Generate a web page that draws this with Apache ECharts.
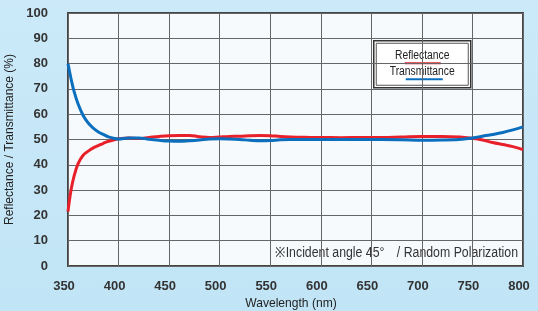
<!DOCTYPE html>
<html>
<head>
<meta charset="utf-8">
<script src="https://cdn.jsdelivr.net/npm/echarts@6/dist/echarts.min.js"></script>
<style>
  html, body { margin: 0; padding: 0; }
  #main { width: 538px; height: 311px; }
</style>
</head>
<body>
<div id="main"></div>
<script>
// wavelength (nm)
var wavelength = [350, 353, 356, 360, 365, 370, 375, 380, 385, 390, 395, 400, 410, 420, 430, 440, 450, 460, 470, 480, 490, 500, 510, 520, 530, 540, 550, 560, 570, 580, 590, 600, 620, 640, 660, 680, 700, 720, 740, 750, 760, 770, 780, 790, 800];
var reflectance = [21.5, 30, 35.5, 40.5, 43.8, 45.4, 46.7, 47.6, 48.5, 49.3, 49.8, 50.3, 50.6, 50.4, 50.8, 51.2, 51.5, 51.6, 51.6, 51.1, 50.8, 51.0, 51.2, 51.3, 51.5, 51.6, 51.5, 51.2, 51.0, 50.9, 50.8, 50.8, 50.7, 50.8, 50.8, 51.0, 51.2, 51.2, 50.9, 50.5, 49.8, 48.8, 48.0, 47.2, 46.0];
var transmittance = [80, 74, 69, 64, 59.5, 56.5, 54.5, 53, 52, 51, 50.5, 50.2, 50.6, 50.6, 50.1, 49.7, 49.4, 49.3, 49.5, 49.8, 50.2, 50.3, 50.2, 50.0, 49.7, 49.5, 49.6, 49.9, 50.0, 50.0, 50.0, 50.0, 50.0, 50.0, 50.0, 49.9, 49.7, 49.8, 50.1, 50.6, 51.3, 52.0, 52.8, 53.8, 55.0];

var seriesNames = ["Reflectance", "Transmittance"];
var xTitle = "Wavelength (nm)";
var yTitle = "Reflectance / Transmittance (%)";
var note = "※Incident angle 45°\u3000/ Random Polarization";

function pairs(ys) {
  return wavelength.map(function (x, i) { return [x, ys[i]]; });
}

var chartDom = document.getElementById("main");
var myChart = echarts.init(chartDom);
var sans = "'Liberation Sans', Arial, sans-serif";

var option = {
  animation: false,
  backgroundColor: {
    type: "linear", x: 0, y: 0, x2: 0, y2: 1,
    colorStops: [
      { offset: 0, color: "#cbe9f9" },
      { offset: 1, color: "#c1e5f6" }
    ]
  },
  grid: {
    left: 68, top: 13, right: 15, bottom: 45,
    outerBoundsMode: "none",
    containLabel: false,
    show: true,
    backgroundColor: "#f6fafd",
    borderColor: "#444",
    borderWidth: 2
  },
  xAxis: {
    type: "value",
    min: 350, max: 800, interval: 50,
    axisLine: { show: false },
    axisTick: { show: false },
    axisLabel: { margin: 14, padding: [0, 8, 0, 0], fontFamily: sans, fontWeight: "bold", fontSize: 13, color: "#333" },
    splitLine: { lineStyle: { color: "#666", width: 1 } }
  },
  yAxis: {
    type: "value",
    min: 0, max: 100, interval: 10,
    name: yTitle,
    nameLocation: "middle",
    nameGap: 39,
    nameTextStyle: { fontFamily: sans, fontSize: 12, color: "#222" },
    axisLine: { show: false },
    axisTick: { show: false },
    axisLabel: { margin: 20, fontFamily: sans, fontWeight: "bold", fontSize: 13, color: "#333" },
    splitLine: { lineStyle: { color: "#666", width: 1 } }
  },
  series: [
    {
      name: seriesNames[0],
      type: "line",
      data: pairs(reflectance),
      smooth: 0.4,
      symbol: "none",
      lineStyle: { color: "#e8202a", width: 3 },
      z: 3
    },
    {
      name: seriesNames[1],
      type: "line",
      data: pairs(transmittance),
      smooth: 0.4,
      symbol: "none",
      lineStyle: { color: "#0b6fbd", width: 3 },
      z: 4
    }
  ],
  graphic: [
    {
      type: "group",
      left: 373, top: 40,
      children: [
        { type: "rect", shape: { x: 0, y: 0, width: 97, height: 47 }, style: { fill: "#fff", stroke: "#333", lineWidth: 1.5 } },
        { type: "rect", shape: { x: 2.5, y: 2.5, width: 92, height: 42 }, style: { fill: "#fff", stroke: "#555", lineWidth: 1 } },
        { type: "text", x: 48.5, y: 14.5, scaleX: 0.86, style: { text: seriesNames[0], fill: "#222", font: "12px " + sans, align: "center", verticalAlign: "middle" } },
        { type: "line", shape: { x1: 31, y1: 22.5, x2: 67, y2: 22.5 }, style: { stroke: "#e8202a", lineWidth: 2 } },
        { type: "text", x: 48.5, y: 30.5, scaleX: 0.86, style: { text: seriesNames[1], fill: "#222", font: "12px " + sans, align: "center", verticalAlign: "middle" } },
        { type: "line", shape: { x1: 32, y1: 38.5, x2: 69, y2: 38.5 }, style: { stroke: "#0b6fbd", lineWidth: 2 } }
      ]
    },
    {
      type: "text",
      x: 518, y: 253, scaleX: 0.88,
      style: { text: note, fill: "#333", font: "14px " + sans, align: "right", verticalAlign: "middle" }
    },
    {
      type: "text",
      x: 291, y: 303, scaleX: 0.93,
      style: { text: xTitle, fill: "#222", font: "13px " + sans, align: "center", verticalAlign: "middle" }
    }
  ]
};

option && myChart.setOption(option);
</script>
</body>
</html>
